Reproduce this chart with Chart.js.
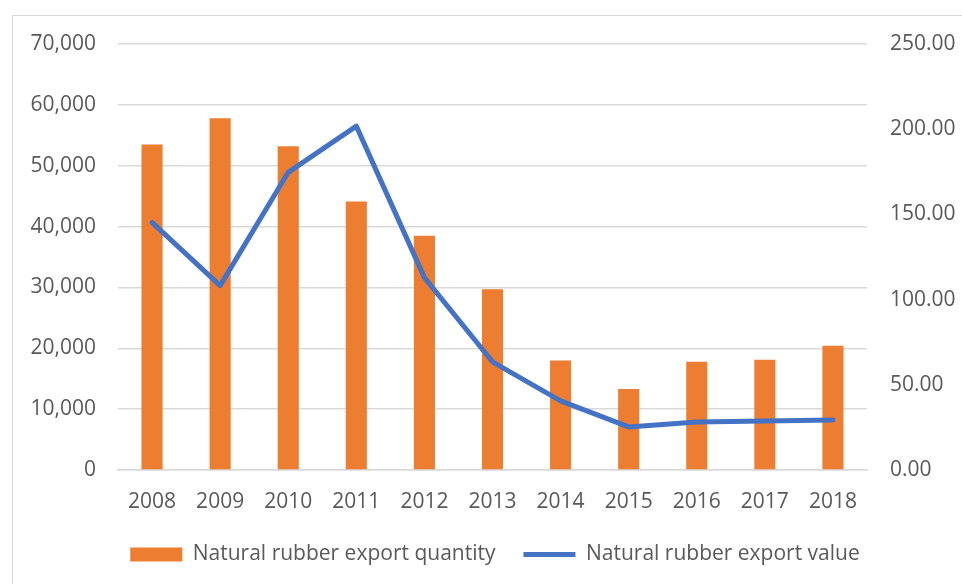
<!DOCTYPE html>
<html>
<head>
<meta charset="utf-8">
<script src="https://cdn.jsdelivr.net/npm/chart.js@4"></script>
<style>
  html, body { margin: 0; padding: 0; background: #fff; overflow: hidden; }
  #wrap {
    position: absolute; left: 12px; top: 15px;
    width: 966px; height: 590px;
    border: 1px solid #d9d9d9; box-sizing: border-box;
  }
</style>
</head>
<body>
<div id="wrap"><canvas id="grafica"></canvas></div>
<script>
// Datos del gráfico
const years = ["2008", "2009", "2010", "2011", "2012", "2013", "2014", "2015", "2016", "2017", "2018"];
const exportQuantity = [53500, 57800, 53200, 44100, 38500, 29700, 18000, 13300, 17800, 18100, 20400];
const exportValue = [145.3, 108.2, 174.7, 201.8, 112.9, 63.5, 40.6, 25.3, 28.2, 28.8, 29.4];

const textColor = "#595959";
const gridColor = "#d9d9d9";
const fontBase = { family: "'Open Sans', sans-serif", size: 21 };

// ancho fijo de los ejes verticales, sin margen extra arriba/abajo
function fixY(width) {
  return (scale) => {
    scale.width = width;
    scale.paddingTop = 0;
    scale.paddingBottom = 0;
  };
}

new Chart(document.getElementById("grafica"), {
  data: {
    labels: years,
    datasets: [
      {
        type: "bar",
        label: "Natural rubber export quantity",
        data: exportQuantity,
        backgroundColor: "#ed7d31",
        yAxisID: "y",
        categoryPercentage: 1,
        barPercentage: 0.31,
        pointStyle: "rect",
        order: 2,
      },
      {
        type: "line",
        label: "Natural rubber export value",
        data: exportValue,
        borderColor: "#4472c4",
        backgroundColor: "#4472c4",
        borderWidth: 5,
        pointRadius: 0,
        tension: 0,
        borderCapStyle: "round",
        borderJoinStyle: "round",
        yAxisID: "y1",
        pointStyle: "line",
        order: 1,
      },
    ],
  },
  options: {
    responsive: true,
    maintainAspectRatio: false,
    animation: false,
    layout: { padding: { left: 0, right: 0, top: 28, bottom: 29 } },
    scales: {
      x: {
        grid: { display: false },
        border: { display: true, color: gridColor, width: 1.5 },
        ticks: { color: textColor, font: fontBase, padding: 11, maxRotation: 0 },
        afterFit: (scale) => { scale.height = 46; },
      },
      y: {
        position: "left",
        min: 0,
        max: 70000,
        ticks: {
          stepSize: 10000,
          color: textColor,
          font: fontBase,
          padding: 22,
          callback: (v) => v.toLocaleString("en-US"),
        },
        grid: { color: gridColor, lineWidth: 1.5, drawTicks: false },
        border: { display: false },
        afterFit: fixY(105),
      },
      y1: {
        position: "right",
        min: 0,
        max: 250,
        ticks: {
          stepSize: 50,
          color: textColor,
          font: fontBase,
          padding: 23,
          callback: (v) => v.toFixed(2),
        },
        grid: { display: false, drawTicks: false },
        border: { display: false },
        afterFit: fixY(110),
      },
    },
    plugins: {
      legend: {
        position: "bottom",
        labels: {
          color: textColor,
          font: fontBase,
          usePointStyle: true,
          pointStyleWidth: 52,
          boxWidth: 52,
          boxHeight: 14,
          padding: 28,
          sort: (a, b) => a.datasetIndex - b.datasetIndex,
        },
      },
      tooltip: { enabled: false },
    },
  },
});
</script>
</body>
</html>
